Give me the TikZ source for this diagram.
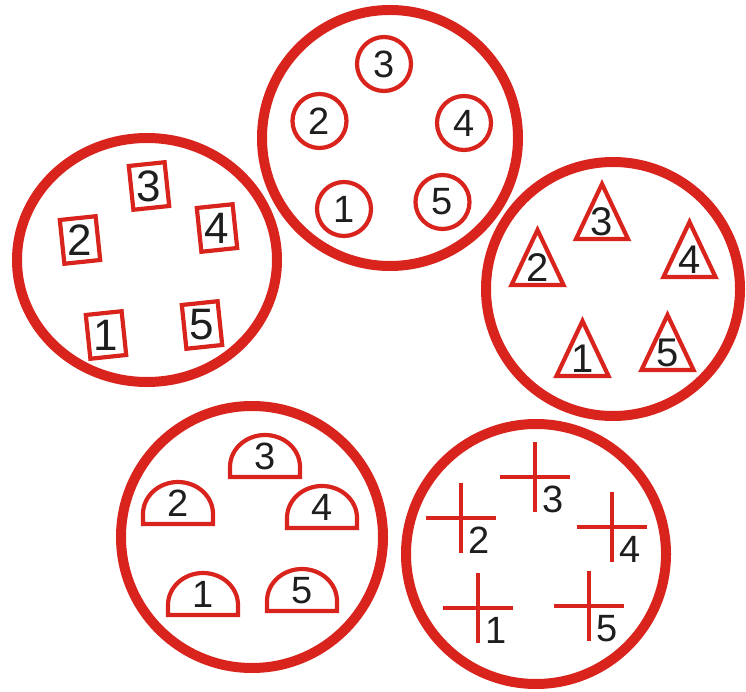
\documentclass[tikz,border=0pt]{standalone}
\usepackage{fontspec}
\setmainfont{Liberation Sans}
\usepackage{tikz}
\usetikzlibrary{shapes.geometric}

\definecolor{pinred}{RGB}{217,36,30}
\definecolor{ink}{RGB}{30,30,30}

\begin{document}
\begin{tikzpicture}[
    x=1pt, y=1pt,
    ring/.style={draw=pinred, line width=10pt, circle, inner sep=0pt},
    pin/.style={draw=pinred, line width=4.2pt},
    pinround/.style={pin, circle, minimum size=54pt, inner sep=0pt},
    pinbox/.style={pin, rectangle, minimum width=36pt, minimum height=44pt,
        inner sep=0pt, rotate=6},
    bar/.style={draw=pinred, line width=4.5pt},
    num/.style={text=ink, inner sep=0pt},
]
\useasboundingbox (0,0) rectangle (746,691);

% Five connector faces
\node[ring, minimum size=256pt] (topring) at (390,553) {};
\node[ring, ellipse, minimum width=260pt, minimum height=244pt] (leftring) at (147,431) {};
\node[ring, minimum size=254pt] (rightring) at (613,402) {};
\node[ring, minimum size=262pt] (lowleft) at (252,154) {};
\node[ring, minimum size=260pt] (lowright) at (536,137) {};

% Top face: round pins
\begin{scope}[every node/.append style={font=\fontsize{38}{38}\selectfont}]
\node[pinround, num] (c1) at (344,482) {1};
\node[pinround, num] (c2) at (319.5,570) {2};
\node[pinround, num] (c3) at (384,627) {3};
\node[pinround, num] (c4) at (464,568) {4};
\node[pinround, num] (c5) at (442.5,489) {5};
\end{scope}

% Left face: square pins, digits upright
\node[pinbox] (s1) at (106,356) {};
\node[pinbox] (s2) at (80,451) {};
\node[pinbox] (s3) at (149,505) {};
\node[pinbox] (s4) at (217,463) {};
\node[pinbox] (s5) at (202,366) {};
\begin{scope}[every node/.append style={font=\fontsize{44}{44}\selectfont}]
\node[num] (s1l) at (s1) {1};
\node[num] (s2l) at (s2) {2};
\node[num] (s3l) at (s3) {3};
\node[num] (s4l) at (s4) {4};
\node[num] (s5l) at (s5) {5};
\end{scope}

% Right face: triangular pins (coordinate = middle of base)
\coordinate (t1) at (582.5,315);
\coordinate (t2) at (537.5,406);
\coordinate (t3) at (602,452);
\coordinate (t4) at (689.5,414);
\coordinate (t5) at (667.5,321);
\draw[pin] (t1) ++(-26,0) -- ++(26,55) -- ++(26,-55) -- cycle;
\draw[pin] (t2) ++(-26,0) -- ++(26,55) -- ++(26,-55) -- cycle;
\draw[pin] (t3) ++(-26,0) -- ++(26,55) -- ++(26,-55) -- cycle;
\draw[pin] (t4) ++(-26,0) -- ++(26,55) -- ++(26,-55) -- cycle;
\draw[pin] (t5) ++(-26,0) -- ++(26,55) -- ++(26,-55) -- cycle;
\begin{scope}[every node/.append style={font=\fontsize{40}{40}\selectfont}]
\node[num, anchor=base] (t1l) at ([yshift=3pt]t1) {1};
\node[num, anchor=base] (t2l) at ([yshift=3pt]t2) {2};
\node[num, anchor=base] (t3l) at ([yshift=3pt]t3) {3};
\node[num, anchor=base] (t4l) at ([yshift=3pt]t4) {4};
\node[num, anchor=base] (t5l) at ([yshift=3pt]t5) {5};
\end{scope}

% Lower left face: half-round pins (coordinate = middle of base)
\coordinate (d1) at (203,76);
\coordinate (d2) at (178,167);
\coordinate (d3) at (265,214);
\coordinate (d4) at (322,163);
\coordinate (d5) at (302,80);
\draw[pin] (d1) ++(-35,0) -- ++(0,10) arc[start angle=180, end angle=0, x radius=35, y radius=32] -- ++(0,-10) -- cycle;
\draw[pin] (d2) ++(-35,0) -- ++(0,10) arc[start angle=180, end angle=0, x radius=35, y radius=32] -- ++(0,-10) -- cycle;
\draw[pin] (d3) ++(-35,0) -- ++(0,10) arc[start angle=180, end angle=0, x radius=35, y radius=32] -- ++(0,-10) -- cycle;
\draw[pin] (d4) ++(-35,0) -- ++(0,10) arc[start angle=180, end angle=0, x radius=35, y radius=32] -- ++(0,-10) -- cycle;
\draw[pin] (d5) ++(-35,0) -- ++(0,10) arc[start angle=180, end angle=0, x radius=35, y radius=32] -- ++(0,-10) -- cycle;
\begin{scope}[every node/.append style={font=\fontsize{38}{38}\selectfont}]
\node[num, anchor=base] (d1l) at ([yshift=8pt]d1) {1};
\node[num, anchor=base] (d2l) at ([yshift=8pt]d2) {2};
\node[num, anchor=base] (d3l) at ([yshift=8pt]d3) {3};
\node[num, anchor=base] (d4l) at ([yshift=8pt]d4) {4};
\node[num, anchor=base] (d5l) at ([yshift=8pt]d5) {5};
\end{scope}

% Lower right face: cross pins, digit below right
\coordinate (x1) at (478,83);
\coordinate (x2) at (461,173);
\coordinate (x3) at (535,214);
\coordinate (x4) at (612,164);
\coordinate (x5) at (589,85);
\draw[bar] (x1) ++(-35,0) -- ++(70,0) (x1) ++(0,-35) -- ++(0,70);
\draw[bar] (x2) ++(-35,0) -- ++(70,0) (x2) ++(0,-35) -- ++(0,70);
\draw[bar] (x3) ++(-35,0) -- ++(70,0) (x3) ++(0,-35) -- ++(0,70);
\draw[bar] (x4) ++(-35,0) -- ++(70,0) (x4) ++(0,-35) -- ++(0,70);
\draw[bar] (x5) ++(-35,0) -- ++(70,0) (x5) ++(0,-35) -- ++(0,70);
\begin{scope}[every node/.append style={font=\fontsize{38}{38}\selectfont}]
\node[num, anchor=base west] (x1l) at ([xshift=7pt, yshift=-35pt]x1) {1};
\node[num, anchor=base west] (x2l) at ([xshift=7pt, yshift=-35pt]x2) {2};
\node[num, anchor=base west] (x3l) at ([xshift=7pt, yshift=-35pt]x3) {3};
\node[num, anchor=base west] (x4l) at ([xshift=7pt, yshift=-35pt]x4) {4};
\node[num, anchor=base west] (x5l) at ([xshift=7pt, yshift=-35pt]x5) {5};
\end{scope}

\end{tikzpicture}
\end{document}
